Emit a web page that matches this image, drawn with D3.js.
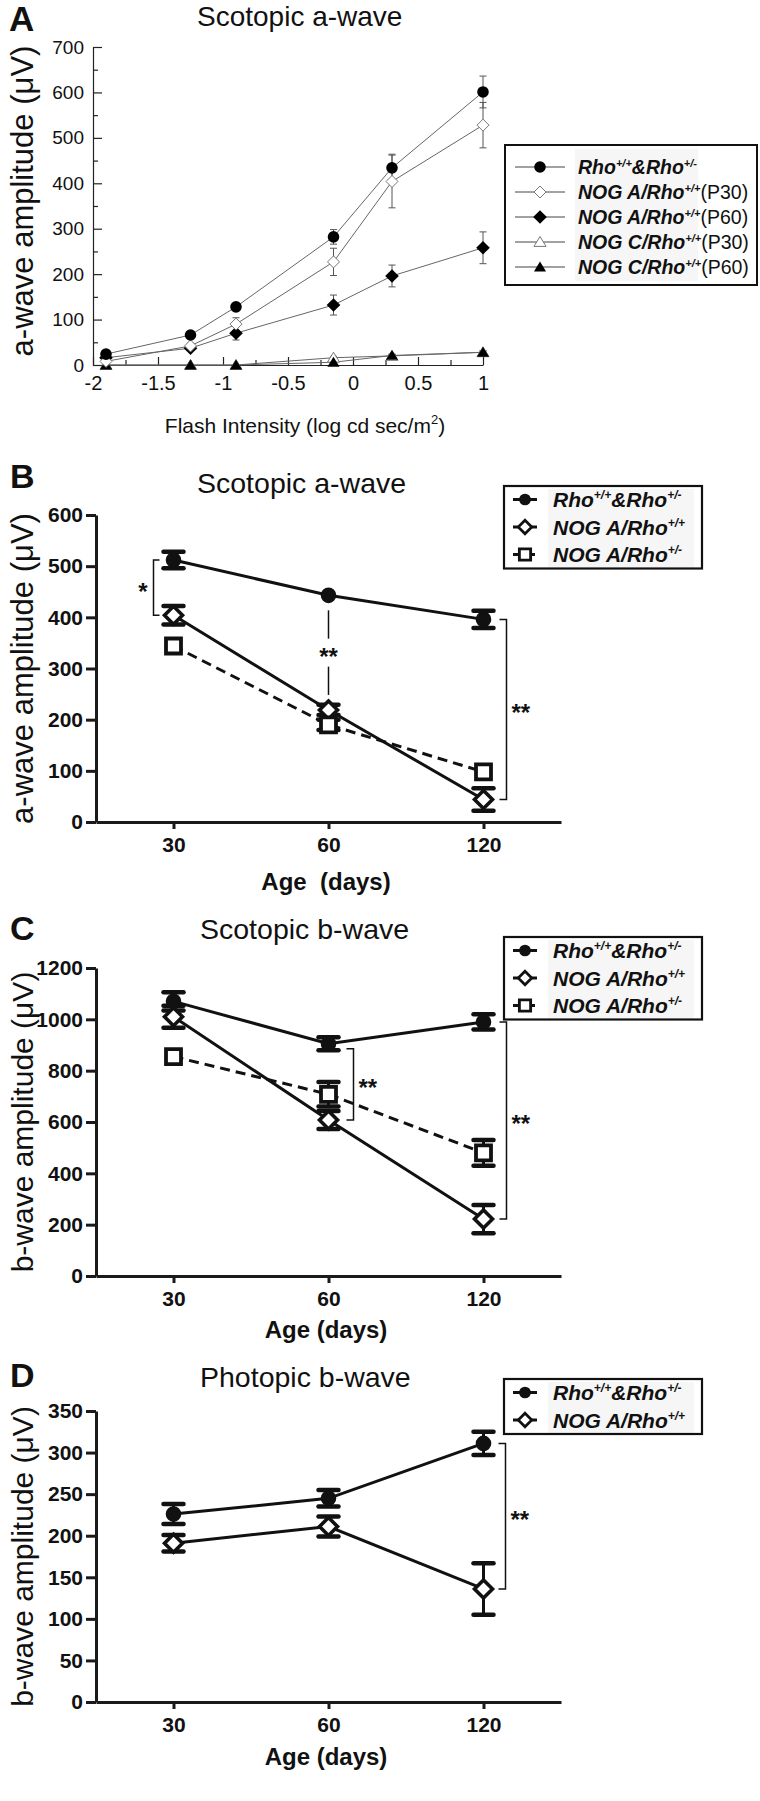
<!DOCTYPE html>
<html><head><meta charset="utf-8">
<script src="https://cdn.jsdelivr.net/npm/d3@7"></script>
<style>
body{margin:0;background:#fff}
svg{display:block}
text{font-family:"Liberation Sans",Arial,Helvetica,sans-serif;fill:#111}
</style>
</head><body>
<svg id="c" width="760" height="1801"></svg>
<script>
// ---------- Panel A data (Scotopic a-wave vs flash intensity) ----------
const intensityA = [-1.9, -1.25, -0.9, -0.15, 0.3, 1.0];
const aTicksX = [-2, -1.5, -1, -0.5, 0, 0.5, 1];
const aMinorX = [-1.75, -1.25, -0.75, -0.25, 0.25, 0.75];
const aTicksY = [0, 100, 200, 300, 400, 500, 600, 700];
const aMinorY = [50, 150, 250, 350, 450, 550, 650];
const aRho = [24, 66, 128, 282, 434, 601];
const aRhoErr = [4, 5, 6, 16, 30, 35];
const aNogAP30 = [8, 42, 90, 227, 404, 528];
const aNogAP30Err = [3, 6, 14, 30, 58, 50];
const aNogAP60 = [16, 37, 70, 132, 196, 258];
const aNogAP60Err = [3, 5, 15, 22, 24, 35];
const aNogCP30 = [0, 0, 0, 16, 20, 28];
const aNogCP30Err = [1, 1, 1, 3, 3, 3];
const aNogCP60 = [0, 0, 0, 6, 21, 28];
const aNogCP60Err = [1, 1, 1, 2, 3, 3];

// ---------- Panels B-D (vs age) ----------
const ages = ["30", "60", "120"];
const bTicksY = [0, 100, 200, 300, 400, 500, 600];
const bRho = [512, 443, 396];
const bRhoErr = [16, 6, 17];
const bNogA = [404, 219, 44];
const bNogAErr = [18, 10, 22];
const bNogAHet = [344, 190, 98];
const bNogAHetErr = [8, 10, 8];

const cTicksY = [0, 200, 400, 600, 800, 1000, 1200];
const cRho = [1070, 905, 990];
const cRhoErr = [36, 25, 30];
const cNogA = [1010, 608, 222];
const cNogAErr = [43, 35, 55];
const cNogAHet = [855, 708, 480];
const cNogAHetErr = [15, 48, 50];

const dTicksY = [0, 50, 100, 150, 200, 250, 300, 350];
const dRho = [226, 245, 311];
const dRhoErr = [12, 10, 14];
const dNogA = [191, 211, 136];
const dNogAErr = [10, 12, 31];

// legend labels: [text, superscript?, italic-bold?]
const lblRho = [["Rho",0,1],["+/+",1,1],["&Rho",0,1],["+/-",1,1]];
const lblNogAhom = [["NOG A/Rho",0,1],["+/+",1,1]];
const lblNogAhet = [["NOG A/Rho",0,1],["+/-",1,1]];
const legendA = [
  [["Rho",0,1],["+/+",1,1],["&Rho",0,1],["+/-",1,1]],
  [["NOG A/Rho",0,1],["+/+",1,1],["(P30)",0,0]],
  [["NOG A/Rho",0,1],["+/+",1,1],["(P60)",0,0]],
  [["NOG C/Rho",0,1],["+/+",1,1],["(P30)",0,0]],
  [["NOG C/Rho",0,1],["+/+",1,1],["(P60)",0,0]]
];

const svg = d3.select("#c");

function diamondPath(r){return `M0,${-r}L${r},0L0,${r}L${-r},0Z`;}
function squarePath(h){return `M${-h},${-h}H${h}V${h}H${-h}Z`;}
function triPath(r){return `M0,${-r}L${r*1.1},${r*0.8}L${-r*1.1},${r*0.8}Z`;}

function marker(g, type, x, y, big){
  const m = g.append("path").attr("transform",`translate(${x},${y})`);
  if (big){
    if(type==="circle") m.attr("d", d3.symbol().type(d3.symbolCircle).size(Math.PI*7.8*7.8)()).attr("fill","#111");
    if(type==="diamond") m.attr("d", diamondPath(9)).attr("fill","#fff").attr("stroke","#111").attr("stroke-width",3.6).attr("stroke-linejoin","miter");
    if(type==="square") m.attr("d", squarePath(7.5)).attr("fill","#fff").attr("stroke","#111").attr("stroke-width",3.8);
  } else {
    if(type==="circle") m.attr("d", d3.symbol().type(d3.symbolCircle).size(Math.PI*5.8*5.8)()).attr("fill","#000");
    if(type==="odiamond") m.attr("d", diamondPath(6)).attr("fill","#fff").attr("stroke","#777").attr("stroke-width",1);
    if(type==="fdiamond") m.attr("d", diamondPath(6.8)).attr("fill","#000");
    if(type==="otri") m.attr("d", triPath(5.5)).attr("fill","#fff").attr("stroke","#777").attr("stroke-width",1);
    if(type==="ftri") m.attr("d", triPath(5.5)).attr("fill","#000");
  }
}

function richText(g, x, y, parts, size){
  const t = g.append("text").attr("x",x).attr("y",y).attr("font-size",size);
  let up = false;
  parts.forEach(p=>{
    const s = t.append("tspan").text(p[0]);
    if(p[2]) s.attr("font-style","italic").attr("font-weight","bold");
    if(p[1]){ s.attr("font-size", Math.round(size*0.58)); if(!up){s.attr("dy", -size*0.38); up=true;} }
    else if(up){ s.attr("dy", size*0.38); up=false; }
  });
  return t;
}

// ================= PANEL A =================
(function(){
  const x = d3.scaleLinear().domain([-2,1]).range([93,483]);
  const y = d3.scaleLinear().domain([0,700]).range([365,47]);
  const g = svg.append("g");
  g.append("text").attr("x",9).attr("y",31).attr("font-size",35).attr("font-weight","bold").text("A");
  g.append("text").attr("x",197).attr("y",26).attr("font-size",28).text("Scotopic a-wave");
  g.append("text").attr("transform",`translate(33,201) rotate(-90)`).attr("text-anchor","middle")
    .attr("font-size",31).text("a-wave amplitude (\u03BCV)");
  const xl = g.append("text").attr("x",305).attr("y",433).attr("text-anchor","middle").attr("font-size",21);
  xl.append("tspan").text("Flash Intensity (log cd sec/m");
  xl.append("tspan").text("2").attr("font-size",13).attr("dy",-9);
  xl.append("tspan").text(")").attr("dy",9);

  const ax = g.append("g").attr("transform","translate(0,365)")
    .call(d3.axisBottom(x).tickValues(aTicksX).tickSize(-8).tickSizeOuter(0).tickPadding(11).tickFormat(d=>String(d)));
  g.append("g").attr("transform","translate(0,365)")
    .call(d3.axisBottom(x).tickValues(aMinorX).tickSize(-5).tickSizeOuter(0).tickFormat(""))
    .select(".domain").remove();
  g.append("g").attr("transform","translate(93,0)")
    .call(d3.axisLeft(y).tickValues(aTicksY).tickSize(-9).tickSizeOuter(0).tickPadding(9).tickFormat(d=>String(d)));
  g.append("g").attr("transform","translate(93,0)")
    .call(d3.axisLeft(y).tickValues(aMinorY).tickSize(-5).tickSizeOuter(0).tickFormat(""))
    .select(".domain").remove();
  g.selectAll(".domain,.tick line").attr("stroke","#222").attr("stroke-width",1.2);
  g.selectAll(".tick text").attr("font-size",19).attr("fill","#111").attr("font-family",'"Liberation Sans",Arial,sans-serif');
  ax.selectAll(".tick text").attr("font-size",20);

  const series = [
    {v:aNogCP30, e:aNogCP30Err, m:"otri"},
    {v:aNogCP60, e:aNogCP60Err, m:"ftri"},
    {v:aNogAP60, e:aNogAP60Err, m:"fdiamond"},
    {v:aNogAP30, e:aNogAP30Err, m:"odiamond"},
    {v:aRho, e:aRhoErr, m:"circle"}
  ];
  const line = d3.line().x((d,i)=>x(intensityA[i])).y(d=>y(d));
  series.forEach(s=>{
    g.append("path").datum(s.v).attr("d",line).attr("fill","none").attr("stroke","#666").attr("stroke-width",1);
  });
  series.forEach(s=>{
    s.v.forEach((v,i)=>{
      const cx = x(intensityA[i]);
      if(s.e[i]>2){
        g.append("line").attr("x1",cx).attr("x2",cx).attr("y1",y(v+s.e[i])).attr("y2",y(v-s.e[i])).attr("stroke","#555").attr("stroke-width",1);
        [v+s.e[i], v-s.e[i]].forEach(w=>g.append("line").attr("x1",cx-3.5).attr("x2",cx+3.5).attr("y1",y(w)).attr("y2",y(w)).attr("stroke","#555").attr("stroke-width",1));
      }
    });
  });
  series.forEach(s=>{ s.v.forEach((v,i)=>marker(g, s.m, x(intensityA[i]), y(v), false)); });

  // legend
  const lg = g.append("g");
  lg.append("rect").attr("x",575).attr("y",149).attr("width",123).attr("height",132).attr("fill","#f6f6f6");
  lg.append("rect").attr("x",505).attr("y",145).attr("width",252).attr("height",140).attr("fill","none").attr("stroke","#111").attr("stroke-width",2);
  const lm = ["circle","odiamond","fdiamond","otri","ftri"];
  legendA.forEach((parts,i)=>{
    const ry = 167 + i*25;
    lg.append("line").attr("x1",515).attr("x2",565).attr("y1",ry).attr("y2",ry).attr("stroke","#444").attr("stroke-width",1);
    marker(lg, lm[i], 540, ry, false);
    richText(lg, 578, ry+7, parts, 19.5);
  });
})();

// ================= PANELS B-D =================
function agePanel(cfg){
  const x = d3.scalePoint().domain(ages).range([96,561]).padding(0.5);
  const y = d3.scaleLinear().domain([0,cfg.yMax]).range([cfg.y0, cfg.yTop]);
  const g = svg.append("g");
  g.append("text").attr("x",10).attr("y",cfg.letterY).attr("font-size",34).attr("font-weight","bold").text(cfg.letter);
  g.append("text").attr("x",cfg.titleX).attr("y",cfg.titleY).attr("font-size",28.5).text(cfg.title);
  g.append("text").attr("transform",`translate(33,${(cfg.y0+cfg.yTop)/2}) rotate(-90)`).attr("text-anchor","middle")
    .attr("font-size",cfg.ylabSize).text(cfg.ylabel);
  g.append("text").attr("x",326).attr("y",cfg.xlabY).attr("text-anchor","middle").attr("font-size",24).attr("font-weight","bold")
    .style("white-space","pre").text(cfg.xlabel);

  g.append("g").attr("transform",`translate(0,${cfg.y0})`)
    .call(d3.axisBottom(x).tickSize(7).tickSizeOuter(0).tickPadding(8));
  g.append("g").attr("transform","translate(96,0)")
    .call(d3.axisLeft(y).tickValues(cfg.ticks).tickSize(10).tickSizeOuter(0).tickPadding(3).tickFormat(d=>String(d)));
  g.selectAll(".domain,.tick line").attr("stroke","#1a1a1a").attr("stroke-width",3);
  g.selectAll(".tick text").attr("font-size",21).attr("font-weight","bold").attr("fill","#111")
    .attr("font-family",'"Liberation Sans",Arial,sans-serif');

  const line = d3.line().x((d,i)=>x(ages[i])).y(d=>y(d));
  cfg.series.forEach(s=>{
    g.append("path").datum(s.v).attr("d",line).attr("fill","none").attr("stroke","#111").attr("stroke-width",3)
      .attr("stroke-dasharray", s.dash ? "10,6" : null);
  });
  cfg.series.forEach(s=>{
    s.v.forEach((v,i)=>{
      const cx = x(ages[i]);
      const hi = y(v+s.e[i]), lo = y(v-s.e[i]);
      if (lo - hi < 10) return; // hidden behind marker
      g.append("line").attr("x1",cx).attr("x2",cx).attr("y1",hi).attr("y2",lo).attr("stroke","#111").attr("stroke-width",3);
      [hi,lo].forEach(yy=>g.append("line").attr("x1",cx-10).attr("x2",cx+10).attr("y1",yy).attr("y2",yy).attr("stroke","#111").attr("stroke-width",4.5).attr("stroke-linecap","round"));
    });
  });
  cfg.series.forEach(s=>{ s.v.forEach((v,i)=>marker(g, s.m, x(ages[i]), y(v), true)); });

  // significance annotations
  cfg.sig.forEach(a=>{
    const bx = x(ages[a.i]) + a.dx;
    const y1 = y(a.from) + (a.pad1||0), y2 = y(a.to) + (a.pad2||0);
    if(a.type==="bracketR"){ // ] shape
      g.append("path").attr("d",`M${bx-7},${y1}H${bx}V${y2}H${bx-7}`).attr("fill","none").attr("stroke","#111").attr("stroke-width",1.5);
      g.append("text").attr("x",bx+5).attr("y",(y1+y2)/2+12).attr("font-size",24).attr("font-weight","bold").text(a.label);
    } else if(a.type==="bracketL"){ // [ shape
      g.append("path").attr("d",`M${bx+6},${y1}H${bx}V${y2}H${bx+6}`).attr("fill","none").attr("stroke","#111").attr("stroke-width",1.5);
      g.append("text").attr("x",bx-6).attr("y",(y1+y2)/2+12).attr("text-anchor","end").attr("font-size",24).attr("font-weight","bold").text(a.label);
    } else { // vertical line with label in the gap
      const mid = (y1+y2)/2;
      g.append("line").attr("x1",bx).attr("x2",bx).attr("y1",y1).attr("y2",mid-14).attr("stroke","#111").attr("stroke-width",1.5);
      g.append("line").attr("x1",bx).attr("x2",bx).attr("y1",mid+14).attr("y2",y2).attr("stroke","#111").attr("stroke-width",1.5);
      g.append("text").attr("x",bx).attr("y",mid+12).attr("text-anchor","middle").attr("font-size",24).attr("font-weight","bold").text(a.label);
    }
  });

  // legend
  const lg = g.append("g");
  const n = cfg.series.length;
  const lh = 27.5, top = cfg.legY, h = n*lh;
  lg.append("rect").attr("x",548).attr("y",top+3).attr("width",146).attr("height",h-4).attr("fill","#f6f6f6");
  lg.append("rect").attr("x",504).attr("y",top).attr("width",198).attr("height",h).attr("fill","none").attr("stroke","#111").attr("stroke-width",2.2);
  cfg.series.forEach((s,i)=>{
    const ry = top + 13.5 + i*lh;
    if(s.dash){
      lg.append("line").attr("x1",513).attr("x2",520).attr("y1",ry).attr("y2",ry).attr("stroke","#111").attr("stroke-width",3);
      lg.append("line").attr("x1",531).attr("x2",535).attr("y1",ry).attr("y2",ry).attr("stroke","#111").attr("stroke-width",3);
    } else {
      lg.append("line").attr("x1",513).attr("x2",537).attr("y1",ry).attr("y2",ry).attr("stroke","#111").attr("stroke-width",3);
    }
    const mg = lg.append("g").attr("transform",`translate(525,${ry}) scale(0.75)`);
    marker(mg, s.m, 0, 0, true);
    richText(lg, 553, ry+7.5, s.label, 21);
  });
}

agePanel({
  letter:"B", letterY:488, title:"Scotopic a-wave", titleX:197, titleY:493,
  ylabel:"a-wave amplitude (\u03BCV)", ylabSize:31, xlabel:"Age\u00A0 (days)", xlabY:890,
  yMax:600, y0:822, yTop:515, ticks:bTicksY, legY:486,
  series:[
    {v:bRho, e:bRhoErr, m:"circle", label:lblRho},
    {v:bNogA, e:bNogAErr, m:"diamond", label:lblNogAhom},
    {v:bNogAHet, e:bNogAHetErr, m:"square", dash:true, label:lblNogAhet}
  ],
  sig:[
    {type:"bracketL", i:0, dx:-20, from:bRho[0], to:bNogA[0], label:"*"},
    {type:"gap", i:1, dx:0, from:bRho[1], to:bNogA[1], pad1:15, pad2:-15, label:"**"},
    {type:"bracketR", i:2, dx:23, from:bRho[2], to:bNogA[2], label:"**"}
  ]
});

agePanel({
  letter:"C", letterY:940, title:"Scotopic b-wave", titleX:200, titleY:939,
  ylabel:"b-wave amplitude (\u03BCV)", ylabSize:30, xlabel:"Age (days)", xlabY:1338,
  yMax:1200, y0:1276, yTop:968, ticks:cTicksY, legY:937,
  series:[
    {v:cRho, e:cRhoErr, m:"circle", label:lblRho},
    {v:cNogA, e:cNogAErr, m:"diamond", label:lblNogAhom},
    {v:cNogAHet, e:cNogAHetErr, m:"square", dash:true, label:lblNogAhet}
  ],
  sig:[
    {type:"bracketR", i:1, dx:25, from:cRho[1], to:cNogA[1], pad1:5, label:"**"},
    {type:"bracketR", i:2, dx:23, from:cRho[2], to:cNogA[2], label:"**"}
  ]
});

agePanel({
  letter:"D", letterY:1387, title:"Photopic b-wave", titleX:200, titleY:1387,
  ylabel:"b-wave amplitude (\u03BCV)", ylabSize:30, xlabel:"Age (days)", xlabY:1765,
  yMax:350, y0:1702, yTop:1411, ticks:dTicksY, legY:1379,
  series:[
    {v:dRho, e:dRhoErr, m:"circle", label:lblRho},
    {v:dNogA, e:dNogAErr, m:"diamond", label:lblNogAhom}
  ],
  sig:[
    {type:"bracketR", i:2, dx:22, from:dRho[2], to:dNogA[2], label:"**"}
  ]
});
</script>
</body></html>
